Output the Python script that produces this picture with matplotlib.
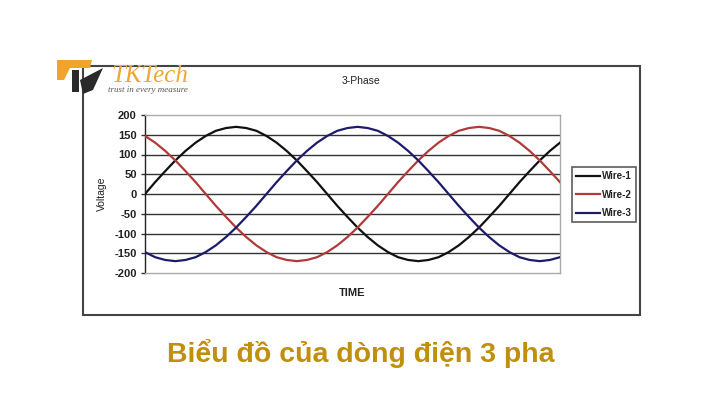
import matplotlib.pyplot as plt
from matplotlib.patches import Rectangle, Polygon

# time in degrees, one sample per 10 degrees
time = list(range(0, 420, 10))
wire1 = [0, 30, 58, 85, 109, 130, 147, 160, 167, 170, 167, 160, 147, 130, 109, 85, 58, 30, 0,
         -30, -58, -85, -109, -130, -147, -160, -167, -170, -167, -160, -147, -130, -109, -85,
         -58, -30, 0, 30, 58, 85, 109, 130]
wire2 = [147, 130, 109, 85, 58, 30, 0, -30, -58, -85, -109, -130, -147, -160, -167, -170, -167,
         -160, -147, -130, -109, -85, -58, -30, 0, 30, 58, 85, 109, 130, 147, 160, 167, 170, 167,
         160, 147, 130, 109, 85, 58, 30]
wire3 = [-147, -160, -167, -170, -167, -160, -147, -130, -109, -85, -58, -30, 0, 30, 58, 85, 109,
         130, 147, 160, 167, 170, 167, 160, 147, 130, 109, 85, 58, 30, 0, -30, -58, -85, -109,
         -130, -147, -160, -167, -170, -167, -160]
yticks = [-200, -150, -100, -50, 0, 50, 100, 150, 200]

plt.rcParams['font.family'] = ['Liberation Sans', 'DejaVu Sans']
fig = plt.figure(figsize=(7.2, 4.2), dpi=100)
fig.patch.set_facecolor('white')

# outer frame of the pasted chart
fig.add_artist(Rectangle((83/720, 1-315/420), (640-83)/720, (315-66)/420, transform=fig.transFigure,
                         fill=False, edgecolor='#444444', linewidth=1.5))

ax = fig.add_axes([145/720, 1-273/420, (560-145)/720, (273-115)/420])
for y in yticks[1:-1]:
    ax.axhline(y, color='#333333', linewidth=1.0, zorder=1)
ax.plot(time, wire1, color='#111111', linewidth=1.6, label='Wire-1', zorder=3)
ax.plot(time, wire2, color='#b03a3a', linewidth=1.6, label='Wire-2', zorder=3)
ax.plot(time, wire3, color='#1c1c6a', linewidth=1.6, label='Wire-3', zorder=3)
ax.set_xlim(0, 410)
ax.set_ylim(-200, 200)
ax.set_yticks(yticks)
ax.set_yticklabels([str(v) for v in yticks], fontsize=8, fontweight='bold', color='#222222')
ax.set_xticks([])
ax.tick_params(axis='y', direction='out', length=3, width=1, color='#333333', pad=3)
for s in ['top', 'right', 'bottom']:
    ax.spines[s].set_color('#aaaaaa')
    ax.spines[s].set_linewidth(1.0)
ax.spines['left'].set_color('#222222')
ax.spines['left'].set_linewidth(1.0)
ax.set_ylabel('Voltage', fontsize=7.5, color='#222222', labelpad=5)
ax.set_xlabel('TIME', fontsize=8, fontweight='bold', color='#222222', labelpad=11)
ax.set_title('3-Phase', fontsize=7.5, color='#222222', pad=22, x=0.52)

leg = ax.legend(loc='upper left', bbox_to_anchor=(572/720, 1-167/420),
                bbox_transform=fig.transFigure, fontsize=7, frameon=True,
                fancybox=False, handlelength=2.4, handletextpad=0.25, borderaxespad=0,
                labelspacing=0.85, borderpad=0.45)
leg.get_frame().set_edgecolor('#333333')
leg.get_frame().set_linewidth(1.2)
for t in leg.get_texts():
    t.set_fontweight('bold')
    t.set_color('#222222')

# logo
fig.add_artist(Polygon([(57/720, 1-60/420), (92/720, 1-60/420), (90/720, 1-68/420), (70/720, 1-68/420),
                        (64/720, 1-80/420), (57/720, 1-80/420)], closed=True, transform=fig.transFigure,
                       facecolor='#f0a52a', edgecolor='none'))
fig.add_artist(Polygon([(72/720, 1-70/420), (79/720, 1-70/420), (79/720, 1-92/420), (72/720, 1-92/420)],
                       closed=True, transform=fig.transFigure, facecolor='#2a2a2a', edgecolor='none'))
fig.add_artist(Polygon([(80/720, 1-80/420), (103/720, 1-68/420), (93/720, 1-90/420), (83/720, 1-94/420)],
                       closed=True, transform=fig.transFigure, facecolor='#2a2a2a', edgecolor='none'))
fig.text(111/720, 1-76/420, 'TKTech', fontsize=18, family='Liberation Serif', style='italic',
         color='#eda733', va='center', ha='left')
fig.text(108/720, 1-90/420, 'trust in every measure', fontsize=6.5, family='Liberation Serif', style='italic',
         color='#555555', va='center', ha='left')

fig.text(361/720, 1-353/420, 'Biểu đồ của dòng điện 3 pha', fontsize=20.5, fontweight='bold',
         color='#c0900c', ha='center', va='center')

fig.savefig('out.png', dpi=100, facecolor='white')
